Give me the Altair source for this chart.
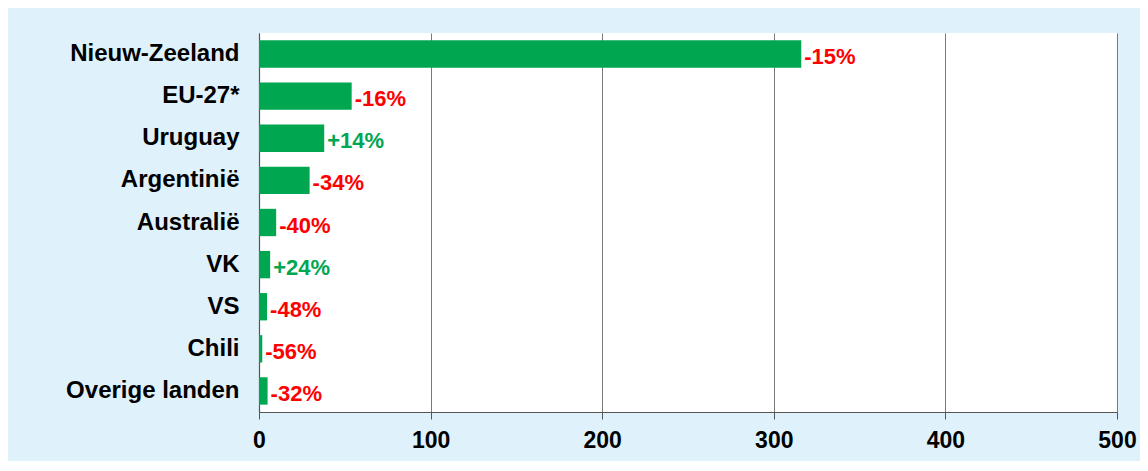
import altair as alt
import pandas as pd

countries = ["Nieuw-Zeeland", "EU-27*", "Uruguay", "Argentinië", "Australië",
             "VK", "VS", "Chili", "Overige landen"]
values = [316, 54, 38, 29.5, 10, 6.5, 4.7, 1.9, 5]
changes = ["-15%", "-16%", "+14%", "-34%", "-40%", "+24%", "-48%", "-56%", "-32%"]
label_colors = ["#FF0000", "#FF0000", "#00A650", "#FF0000", "#FF0000",
                "#00A650", "#FF0000", "#FF0000", "#FF0000"]

df = pd.DataFrame({"land": countries, "waarde": values,
                   "verandering": changes, "kleur": label_colors})

FONT = "Liberation Sans"

y_enc = alt.Y("land:N", sort=countries,
              scale=alt.Scale(paddingInner=0.35, paddingOuter=0.175),
              axis=alt.Axis(title=None, ticks=False, labelFont=FONT, labelFontSize=24,
                            labelFontWeight="bold", labelColor="#000000",
                            labelPadding=20, domainColor="#555555", domainWidth=1.2,
                            grid=False))

x_enc = alt.X("waarde:Q", scale=alt.Scale(domain=[0, 500], nice=False),
              axis=alt.Axis(title=None, values=[0, 100, 200, 300, 400, 500],
                            grid=True, gridColor="#7a7a7a", gridWidth=1,
                            domainColor="#555555", tickColor="#555555", tickSize=7,
                            labelFont=FONT, labelFontSize=23, labelFontWeight="bold",
                            labelColor="#000000", labelPadding=10, labelFlush=False))

bars = alt.Chart(df).mark_bar(color="#00A650").encode(x=x_enc, y=y_enc)

text = alt.Chart(df).mark_text(align="left", baseline="middle", dx=3, dy=3,
                               font=FONT, fontSize=22, fontWeight="bold").encode(
    x=alt.X("waarde:Q"),
    y=alt.Y("land:N", sort=countries),
    text="verandering:N",
    color=alt.Color("kleur:N", scale=None),
)

chart = (bars + text).properties(
    width=858, height=379,
    background="#DFF1FB",
    autosize=alt.AutoSizeParams(type="none"),
    padding={"left": 251, "top": 25, "right": 23, "bottom": 49},
).configure_view(stroke=None, fill="#FFFFFF")

chart.save("out.html", embed_options={"renderer": "svg", "actions": False})
